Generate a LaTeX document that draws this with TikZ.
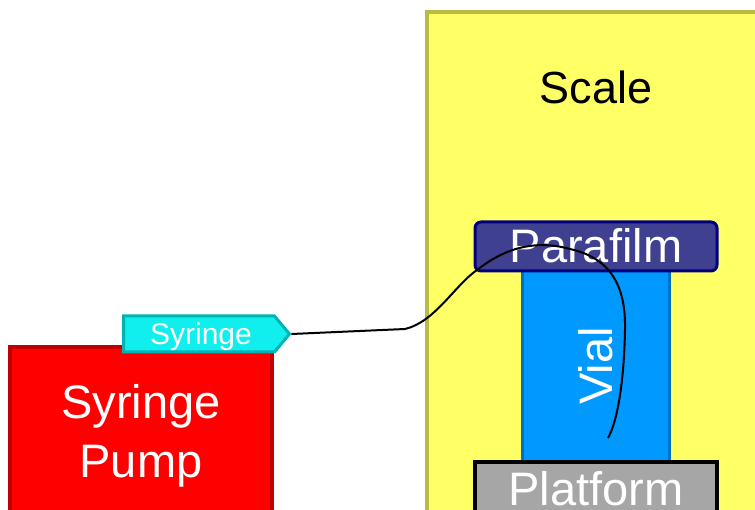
\documentclass[tikz,border=0pt]{standalone}
\usepackage{fontspec}
\setmainfont{Liberation Sans}
\usetikzlibrary{shapes.symbols}
\definecolor{scalefill}{HTML}{FFFF66}
\definecolor{scaledraw}{HTML}{BBBB44}
\definecolor{pumpfill}{HTML}{FF0000}
\definecolor{pumpdraw}{HTML}{C00000}
\definecolor{tagfill}{HTML}{11EEEE}
\definecolor{tagdraw}{HTML}{00B3B3}
\definecolor{filmfill}{HTML}{404090}
\definecolor{filmdraw}{HTML}{000080}
\definecolor{vialfill}{HTML}{0099FF}
\definecolor{vialdraw}{HTML}{0070C0}
\definecolor{platfill}{HTML}{A6A6A6}
\tikzset{
  box/.style={rectangle, inner sep=0pt, outer sep=0pt},
  bigtext/.style={font=\fontsize{47}{56}\selectfont, inner sep=0pt, anchor=base},
  wire/.style={draw=black, line width=2pt}
}
\begin{document}
\begin{tikzpicture}[x=1pt,y=-1pt]
\useasboundingbox (0,0) rectangle (755,510);
\clip (0,0) rectangle (755,510);
% Scale
\node[box, draw=scaledraw, fill=scalefill, line width=4pt,
      minimum width=340pt, minimum height=510pt, anchor=north west] (scale) at (427,12) {};
\node[bigtext, font=\fontsize{45}{54}\selectfont] (scaletxt) at (596,104) {Scale};
% Syringe pump
\node[box, draw=pumpdraw, fill=pumpfill, line width=3.5pt,
      minimum width=262pt, minimum height=180pt, anchor=north west] (pump) at (10,347) {};
\node[bigtext, text=white] (pumptxt1) at (141,418) {Syringe};
\node[bigtext, text=white] (pumptxt2) at (141,477) {Pump};
% Syringe tag
\node[signal, signal to=east, signal pointer angle=100, draw=tagdraw, fill=tagfill,
      line width=3pt, minimum width=166pt, minimum height=36pt, inner sep=0pt,
      anchor=west] (tag) at (122,334) {};
\node[inner sep=0pt, anchor=base, text=white, font=\fontsize{30}{36}\selectfont] (tagtxt) at (201,345) {Syringe};
% Vial
\node[box, draw=vialdraw, fill=vialfill, line width=3pt,
      minimum width=147pt, minimum height=195pt, anchor=north west] (vial) at (522,270) {};
\node[bigtext, text=white, rotate=90] (vialtxt) at (612,366) {Vial};
% Parafilm
\node[box, draw=filmdraw, fill=filmfill, line width=3pt, rounded corners=6pt,
      minimum width=242pt, minimum height=49pt, anchor=north west] (film) at (475,222) {};
\node[bigtext, text=white] (filmtxt) at (596,263) {Parafilm};
% Platform
\node[box, draw=black, fill=platfill, line width=4pt,
      minimum width=242pt, minimum height=80pt, anchor=north west] (plat) at (475,462) {};
\node[bigtext, text=white] (plattxt) at (596,505) {Platform};
% Tube
\coordinate (tubeend) at (608,438);
\draw[wire] (tag.east) -- (405,329)
  .. controls (435,322) and (455,285) .. (477,270)
  .. controls (500,252) and (530,238) .. (570,249)
  .. controls (610,258) and (626,285) .. (625,330)
  .. controls (624,380) and (618,420) .. (tubeend);
\end{tikzpicture}
\end{document}
